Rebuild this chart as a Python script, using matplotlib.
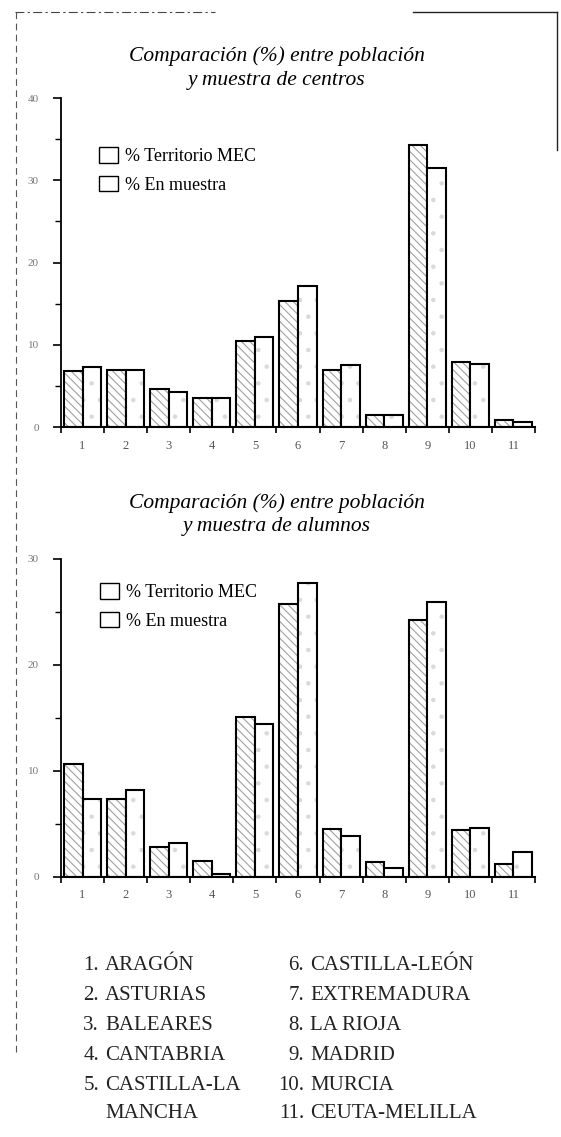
import matplotlib.pyplot as plt
from matplotlib.patches import Patch
from matplotlib.lines import Line2D
import numpy as np

plt.rcParams['font.family'] = ['Liberation Serif', 'DejaVu Serif']
plt.rcParams['hatch.linewidth'] = 0.8

# data (%)
regiones = ['1', '2', '3', '4', '5', '6', '7', '8', '9', '10', '11']
centros_mec = [6.8, 6.9, 4.6, 3.5, 10.5, 15.3, 6.9, 1.4, 34.3, 7.9, 0.85]
centros_muestra = [7.3, 6.9, 4.3, 3.5, 11.0, 17.2, 7.5, 1.4, 31.5, 7.6, 0.6]
alumnos_mec = [10.7, 7.4, 2.85, 1.5, 15.1, 25.8, 4.5, 1.4, 24.2, 4.4, 1.2]
alumnos_muestra = [7.4, 8.2, 3.25, 0.3, 14.4, 27.7, 3.9, 0.85, 25.9, 4.6, 2.4]
series = ['% Territorio MEC', '% En muestra']
nombres_col1 = [('1.', 'ARAGÓN'), ('2.', 'ASTURIAS'), ('3.', 'BALEARES'),
                ('4.', 'CANTABRIA'), ('5.', 'CASTILLA-LA'), ('', 'MANCHA')]
nombres_col2 = [('6.', 'CASTILLA-LEÓN'), ('7.', 'EXTREMADURA'), ('8.', 'LA RIOJA'),
                ('9.', 'MADRID'), ('10.', 'MURCIA'), ('11.', 'CEUTA-MELILLA')]

W, H = 561, 1137
fig = plt.figure(figsize=(W / 100, H / 100), dpi=100)


def fx(px):
    return px / W


def fy(py):
    return 1 - py / H


def draw(ax, mec, muestra, ymax):
    x = np.arange(1, len(regiones) + 1)
    w = 0.43
    ax.bar(x - w / 2, mec, w, color='white', hatch='\\\\\\\\', edgecolor='#a0a0a0', linewidth=0)
    ax.bar(x - w / 2, mec, w, fill=False, edgecolor='black', linewidth=1.5)
    ax.bar(x + w / 2, muestra, w, color='white', hatch='.', edgecolor='#dadada', linewidth=0)
    ax.bar(x + w / 2, muestra, w, fill=False, edgecolor='black', linewidth=1.5)

    ax.set_xlim(0.5, len(regiones) + 0.5)
    ax.set_ylim(0, ymax)
    for s in ['top', 'right']:
        ax.spines[s].set_visible(False)
    ax.spines['left'].set_linewidth(1.3)
    ax.spines['bottom'].set_linewidth(1.5)

    ax.set_xticks(np.arange(0.5, len(regiones) + 1, 1))
    ax.set_xticks(x, minor=True)
    ax.set_xticklabels(regiones, minor=True)
    ax.tick_params(axis='x', which='major', length=4, width=1.2, labelbottom=False)
    ax.tick_params(axis='x', which='minor', length=0, pad=9, labelsize=9, labelcolor='#555555')

    ax.set_yticks(np.arange(0, ymax + 1, 10))
    ax.set_yticks(np.arange(5, ymax, 10), minor=True)
    ax.tick_params(axis='y', which='major', length=6, width=1.2, pad=10,
                   labelsize=8, labelcolor='#777777')
    ax.tick_params(axis='y', which='minor', length=4, width=1.0)

    return [Patch(facecolor='white', edgecolor='black', linewidth=1.0) for _ in series]


def leyenda(ax, handles, x0, y0):
    ax.legend(handles, series, loc='upper left', bbox_to_anchor=(fx(x0), fy(y0)),
              bbox_transform=fig.transFigure, frameon=False, fontsize=13,
              handlelength=1.05, handleheight=0.95, handletextpad=0.4,
              labelspacing=0.6, borderpad=0, borderaxespad=0)


def titulo(y1, linea2):
    fig.text(fx(277), fy(y1), 'Comparación (%) entre población', ha='center', va='center',
             fontsize=15.5, style='italic')
    fig.text(fx(277), fy(y1 + 24), linea2, ha='center', va='center',
             fontsize=15.5, style='italic')


# top chart: centros
ax1 = fig.add_axes([fx(61), fy(427), fx(535 - 61), (427 - 98) / H])
leyenda(ax1, draw(ax1, centros_mec, centros_muestra, 40), 99, 147)
titulo(56, 'y muestra de centros')

# bottom chart: alumnos
ax2 = fig.add_axes([fx(61), fy(877), fx(535 - 61), (877 - 559) / H])
leyenda(ax2, draw(ax2, alumnos_mec, alumnos_muestra, 30), 100, 583)
titulo(503, 'y muestra de alumnos')

# list of regions
filas = [966, 996, 1025, 1055, 1085, 1113]
for (num, nom), yy in zip(nombres_col1, filas):
    fig.text(fx(99), fy(yy), num, ha='right', va='center', fontsize=15, color='#222222')
    fig.text(fx(105), fy(yy), nom, ha='left', va='center', fontsize=15, color='#222222')
for (num, nom), yy in zip(nombres_col2, filas):
    fig.text(fx(304), fy(yy), num, ha='right', va='center', fontsize=15, color='#222222')
    fig.text(fx(310), fy(yy), nom, ha='left', va='center', fontsize=15, color='#222222')

# page border remnants from the scan
fig.add_artist(Line2D([fx(15), fx(215)], [fy(12), fy(12)], color='#444444',
                      linewidth=0.8, linestyle=(0, (8, 3, 2, 3))))
fig.add_artist(Line2D([fx(413), fx(557)], [fy(12), fy(12)], color='#222222', linewidth=1.0))
fig.add_artist(Line2D([fx(557), fx(557)], [fy(12), fy(150)], color='#222222', linewidth=1.0))
fig.add_artist(Line2D([fx(16), fx(16)], [fy(12), fy(1055)], color='#555555',
                      linewidth=0.8, linestyle=(0, (6, 4))))

fig.savefig('out.png', dpi=100)
